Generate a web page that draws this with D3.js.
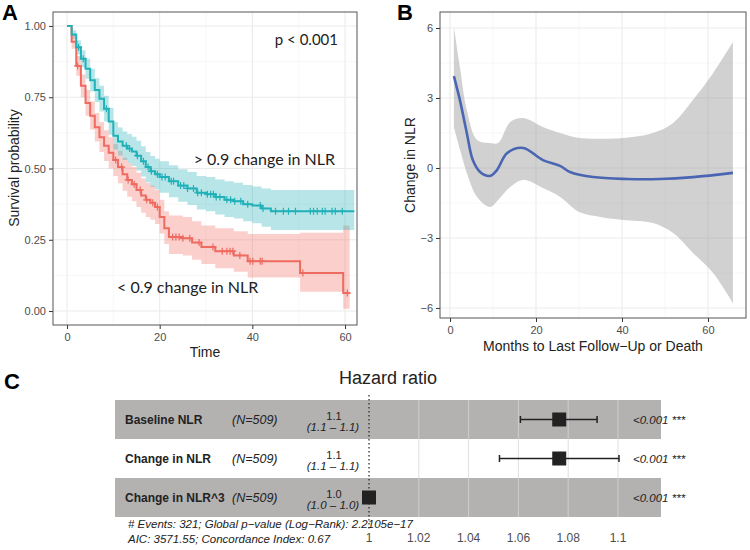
<!DOCTYPE html>
<html>
<head>
<meta charset="utf-8">
<script src="https://cdn.jsdelivr.net/npm/d3@7"></script>
<style>
body { margin: 0; background: #fff; }
svg text { font-family: "Liberation Sans", Arial, Helvetica, sans-serif; }
</style>
</head>
<body>
<div id="chart"></div>
<script>
// ---------- Panel A: Kaplan-Meier, > 0.9 change in NLR ----------
const highTime  = [0, 1, 2, 3, 4, 5, 6, 7, 8, 9, 10, 11, 12, 13, 14, 15, 16, 17, 18, 19, 20, 22, 24, 26, 28, 30, 32, 34, 36, 38, 40, 42, 44, 62];
const highSurv  = [1, 0.97, 0.925, 0.885, 0.85, 0.81, 0.775, 0.745, 0.71, 0.665, 0.615, 0.595, 0.58, 0.57, 0.56, 0.545, 0.525, 0.505, 0.49, 0.48, 0.47, 0.455, 0.44, 0.43, 0.415, 0.41, 0.4, 0.39, 0.385, 0.375, 0.37, 0.36, 0.35, 0.35];
const highLower = [1, 0.955, 0.9, 0.855, 0.815, 0.77, 0.733, 0.7, 0.665, 0.618, 0.567, 0.546, 0.53, 0.519, 0.509, 0.493, 0.472, 0.452, 0.436, 0.426, 0.415, 0.399, 0.383, 0.372, 0.356, 0.35, 0.339, 0.33, 0.325, 0.315, 0.308, 0.296, 0.284, 0.284];
const highUpper = [1, 0.985, 0.95, 0.915, 0.885, 0.85, 0.817, 0.79, 0.755, 0.712, 0.663, 0.644, 0.63, 0.621, 0.611, 0.597, 0.578, 0.558, 0.544, 0.534, 0.525, 0.511, 0.497, 0.488, 0.474, 0.47, 0.461, 0.455, 0.45, 0.442, 0.437, 0.43, 0.425, 0.425];
const highCensor = [2.5, 3.5, 8.5, 12.8, 13.5, 15.2, 16.5, 17.5, 18.2, 19.5, 20.5, 21.2, 22.5, 23, 24.5, 25.2, 26, 27.3, 28.2, 29, 30.3, 31, 31.6, 32.2, 33, 34.5, 35.3, 36.2, 37.5, 39, 41.7, 42.3, 45, 46.7, 47.8, 49.3, 52.5, 53.2, 54, 55.1, 55.7, 57.2, 57.9, 59.4];

// ---------- Panel A: Kaplan-Meier, < 0.9 change in NLR ----------
const lowTime  = [0, 1, 2, 3, 4, 5, 6, 7, 8, 9, 10, 11, 12, 13, 14, 15, 16, 17, 18, 19, 20, 21, 22, 25, 27, 29, 32, 36, 39, 50.3, 59.6, 61];
const lowSurv  = [1, 0.945, 0.86, 0.79, 0.73, 0.685, 0.645, 0.61, 0.58, 0.555, 0.53, 0.505, 0.48, 0.46, 0.445, 0.425, 0.405, 0.39, 0.38, 0.365, 0.33, 0.29, 0.26, 0.255, 0.24, 0.225, 0.21, 0.195, 0.175, 0.133, 0.063, 0.063];
const lowLower = [1, 0.92, 0.825, 0.75, 0.685, 0.637, 0.595, 0.558, 0.526, 0.5, 0.474, 0.448, 0.422, 0.401, 0.385, 0.365, 0.345, 0.33, 0.32, 0.305, 0.272, 0.235, 0.2, 0.195, 0.18, 0.165, 0.15, 0.138, 0.118, 0.068, 0.008, 0.008];
const lowUpper = [1, 0.97, 0.895, 0.83, 0.775, 0.735, 0.695, 0.662, 0.634, 0.61, 0.586, 0.562, 0.538, 0.519, 0.505, 0.485, 0.465, 0.45, 0.44, 0.425, 0.39, 0.35, 0.335, 0.33, 0.315, 0.3, 0.29, 0.28, 0.27, 0.275, 0.3, 0.3];
const lowCensor = [2.3, 10.5, 11.8, 13.2, 14.5, 15.8, 17.2, 18.5, 19.5, 22.8, 23.5, 24.2, 25, 26.5, 28.5, 31.5, 33.5, 34.5, 35.2, 35.8, 37.3, 39.5, 40.1, 41.7, 42.1, 50.9, 60.5];

const kmTicksX = [0, 20, 40, 60];
const kmTicksY = [0, 0.25, 0.5, 0.75, 1];

// ---------- Panel B: loess of change in NLR ----------
const fitMonths = [0.9, 2.3, 3.9, 5.3, 7, 9.3, 10.9, 13.3, 17, 21.6, 25.6, 27.9, 33.3, 41.2, 48.8, 56.5, 65.8];
const fitValue  = [3.94, 2.91, 1.5, 0.34, -0.17, -0.34, -0.09, 0.64, 0.86, 0.34, 0.09, -0.17, -0.39, -0.47, -0.47, -0.39, -0.21];
const bandMonths = [0.9, 2.3, 3.9, 6.3, 9.3, 11.2, 14, 17, 21.6, 25.6, 30.2, 35, 40.2, 47.2, 51.9, 56.5, 61.2, 65.8];
const bandUpper  = [6.04, 4.33, 2.49, 1.2, 1.07, 1.07, 1.97, 2.14, 1.76, 1.5, 1.28, 1.25, 1.28, 1.5, 1.93, 2.91, 4.07, 5.4];
const bandLower  = [1.76, 0.8, -0.21, -1.24, -1.67, -1.37, -0.81, -0.51, -0.86, -1.24, -1.9, -2.1, -2.23, -2.36, -2.79, -3.64, -4.5, -5.8];
const loessTicksX = [0, 20, 40, 60];
const loessTicksY = [-6, -3, 0, 3, 6];

// ---------- Panel C: Cox model forest plot ----------
const coxTerms = ["Baseline NLR", "Change in NLR", "Change in NLR^3"];
const coxN     = ["(N=509)", "(N=509)", "(N=509)"];
const coxHR    = [1.0764, 1.0764, 1.0];
const coxLow   = [1.0608, 1.0524, 0.9995];
const coxHigh  = [1.0916, 1.1004, 1.0005];
const coxEst   = ["1.1", "1.1", "1.0"];
const coxCI    = ["(1.1 \u2013 1.1)", "(1.1 \u2013 1.1)", "(1.0 \u2013 1.0)"];
const coxP     = ["<0.001 ***", "<0.001 ***", "<0.001 ***"];
const coxTicks = [1, 1.02, 1.04, 1.06, 1.08, 1.1];
const coxNotes = ["# Events: 321; Global p\u2212value (Log\u2212Rank): 2.2105e\u221217",
                  "AIC: 3571.55; Concordance Index: 0.67"];

const teal = "#21b1b8", red = "#ee6b60";

const svg = d3.select("#chart").append("svg")
    .attr("width", 750)
    .attr("height", 550)
    .style("background", "#fff");

// ggplot-ish panel with grid
function drawPanel(g, x, y, ticksX, ticksY, minorX, minorY) {
    let [x0, x1] = x.range(), [y1, y0] = y.range();
    g.append("rect").attr("x", x0).attr("y", y0).attr("width", x1 - x0).attr("height", y1 - y0)
        .attr("fill", "#fff");
    minorX.forEach(t => g.append("line").attr("x1", x(t)).attr("x2", x(t)).attr("y1", y0).attr("y2", y1)
        .attr("stroke", "#f2f2f2").attr("stroke-width", 0.6));
    minorY.forEach(t => g.append("line").attr("x1", x0).attr("x2", x1).attr("y1", y(t)).attr("y2", y(t))
        .attr("stroke", "#f2f2f2").attr("stroke-width", 0.6));
    ticksX.forEach(t => g.append("line").attr("x1", x(t)).attr("x2", x(t)).attr("y1", y0).attr("y2", y1)
        .attr("stroke", "#ebebeb").attr("stroke-width", 1.1));
    ticksY.forEach(t => g.append("line").attr("x1", x0).attr("x2", x1).attr("y1", y(t)).attr("y2", y(t))
        .attr("stroke", "#ebebeb").attr("stroke-width", 1.1));
}

// axes + border drawn on top
function drawAxes(g, x, y, ticksX, ticksY, fmtY) {
    let [x0, x1] = x.range(), [y1, y0] = y.range();
    let ax = g.append("g").attr("transform", "translate(0," + y1 + ")")
        .call(d3.axisBottom(x).tickValues(ticksX).tickSize(4).tickPadding(4).tickFormat(d3.format("d")));
    let ay = g.append("g").attr("transform", "translate(" + x0 + ",0)")
        .call(d3.axisLeft(y).tickValues(ticksY).tickSize(4).tickPadding(3).tickFormat(fmtY));
    [ax, ay].forEach(a => {
        a.select(".domain").remove();
        a.selectAll("line").attr("stroke", "#333");
        a.selectAll("text").attr("fill", "#4d4d4d").style("font-size", "11px");
    });
    ay.selectAll("text").text(d => fmtY(d).replace("-", "\u2212"));
    g.append("rect").attr("x", x0).attr("y", y0).attr("width", x1 - x0).attr("height", y1 - y0)
        .attr("fill", "none").attr("stroke", "#555").attr("stroke-width", 1);
}

// ================= Panel A =================
let gA = svg.append("g");
let xA = d3.scaleLinear().domain([-3.02, 62.58]).range([53, 357]);
let yA = d3.scaleLinear().domain([-0.049, 1.049]).range([325, 12]);
drawPanel(gA, xA, yA, kmTicksX, kmTicksY, [10, 30, 50], [0.125, 0.375, 0.625, 0.875]);

svg.append("clipPath").attr("id", "clipA").append("rect")
    .attr("x", 53).attr("y", 12).attr("width", 304).attr("height", 313);
let plotA = gA.append("g").attr("clip-path", "url(#clipA)");

let groups = [
    {time: lowTime, surv: lowSurv, lo: lowLower, hi: lowUpper, cens: lowCensor, col: red},
    {time: highTime, surv: highSurv, lo: highLower, hi: highUpper, cens: highCensor, col: teal}
];

groups.forEach(grp => {
    let pts = grp.time.map((t, i) => ({t: t, lo: grp.lo[i], hi: grp.hi[i]}));
    plotA.append("path").datum(pts)
        .attr("d", d3.area().curve(d3.curveStepAfter).x(d => xA(d.t)).y0(d => yA(d.lo)).y1(d => yA(d.hi)))
        .attr("fill", grp.col).attr("fill-opacity", 0.32);
});
groups.forEach(grp => {
    let pts = grp.time.map((t, i) => ({t: t, s: grp.surv[i]}));
    plotA.append("path").datum(pts)
        .attr("d", d3.line().curve(d3.curveStepAfter).x(d => xA(d.t)).y(d => yA(d.s)))
        .attr("fill", "none").attr("stroke", grp.col).attr("stroke-width", 2);
    // censor marks sit on the step curve
    let bis = d3.bisector(d => d).right;
    grp.cens.forEach(c => {
        let i = Math.max(0, bis(grp.time, c) - 1);
        let cx = xA(c), cy = yA(grp.surv[i]);
        plotA.append("path")
            .attr("d", `M${cx - 3.5},${cy}H${cx + 3.5}M${cx},${cy - 3.5}V${cy + 3.5}`)
            .attr("stroke", grp.col).attr("stroke-width", 1.2);
    });
});

drawAxes(gA, xA, yA, kmTicksX, kmTicksY, d3.format(".2f"));

gA.append("text").attr("x", 14).attr("y", 168).attr("transform", "rotate(-90,14,168)")
    .attr("dy", "0.35em").attr("text-anchor", "middle").style("font-size", "14px").attr("fill", "#222")
    .text("Survival probability");
gA.append("text").attr("x", 205).attr("y", 357).attr("text-anchor", "middle")
    .style("font-size", "14px").attr("fill", "#222").text("Time");

gA.append("text").attr("x", 338).attr("y", 45).attr("text-anchor", "end")
    .style("font-family", "Lato, sans-serif").style("font-size", "15px").attr("fill", "#222").text("p < 0.001");
gA.append("text").attr("x", 335).attr("y", 165).attr("text-anchor", "end")
    .style("font-family", "Lato, sans-serif").style("font-size", "16px").attr("fill", "#222").text("> 0.9 change in NLR");
gA.append("text").attr("x", 117).attr("y", 293)
    .style("font-family", "Lato, sans-serif").style("font-size", "16px").attr("fill", "#222").text("< 0.9 change in NLR");

svg.append("text").attr("x", 2).attr("y", 20).style("font-size", "22px").style("font-weight", "bold").text("A");

// ================= Panel B =================
let gB = svg.append("g");
let xB = d3.scaleLinear().domain([-2.33, 68.84]).range([440, 746]);
let yB = d3.scaleLinear().domain([-6.43, 6.686]).range([318, 12]);
drawPanel(gB, xB, yB, loessTicksX, loessTicksY, [10, 30, 50], [-4.5, -1.5, 1.5, 4.5]);

let band = bandMonths.map((m, i) => ({m: m, lo: bandLower[i], hi: bandUpper[i]}));
gB.append("path").datum(band)
    .attr("d", d3.area().curve(d3.curveCatmullRom).x(d => xB(d.m)).y0(d => yB(d.lo)).y1(d => yB(d.hi)))
    .attr("fill", "#999").attr("fill-opacity", 0.45);
let fit = fitMonths.map((m, i) => ({m: m, v: fitValue[i]}));
gB.append("path").datum(fit)
    .attr("d", d3.line().curve(d3.curveCatmullRom).x(d => xB(d.m)).y(d => yB(d.v)))
    .attr("fill", "none").attr("stroke", "#4a66b3").attr("stroke-width", 2.6);

drawAxes(gB, xB, yB, loessTicksX, loessTicksY, d3.format("d"));

gB.append("text").attr("x", 410).attr("y", 165).attr("transform", "rotate(-90,410,165)")
    .attr("dy", "0.35em").attr("text-anchor", "middle").style("font-size", "14px").attr("fill", "#222")
    .text("Change in NLR");
gB.append("text").attr("x", 593).attr("y", 351).attr("text-anchor", "middle")
    .style("font-size", "14px").attr("fill", "#222").text("Months to Last Follow\u2212Up or Death");

svg.append("text").attr("x", 397).attr("y", 20).style("font-size", "22px").style("font-weight", "bold").text("B");

// ================= Panel C =================
let gC = svg.append("g");
let xC = d3.scaleLinear().domain([1, 1.1]).range([369, 618]);
let rowY = d3.scaleBand().domain(coxTerms).range([400, 517]);

svg.append("text").attr("x", 4).attr("y", 389).style("font-size", "22px").style("font-weight", "bold").text("C");
gC.append("text").attr("x", 388).attr("y", 384).attr("text-anchor", "middle")
    .style("font-size", "18px").attr("fill", "#222").text("Hazard ratio");

coxTerms.forEach((t, i) => {
    if (i % 2 === 0) {
        gC.append("rect").attr("x", 115).attr("y", rowY(t)).attr("width", 661 - 115)
            .attr("height", rowY.bandwidth()).attr("fill", "#b4b1b1");
    }
});
coxTicks.slice(1).forEach(t => gC.append("line").attr("x1", xC(t)).attr("x2", xC(t))
    .attr("y1", 400).attr("y2", 517).attr("stroke", "#d6d6d6").attr("stroke-width", 0.8));

gC.append("line").attr("x1", xC(1)).attr("x2", xC(1)).attr("y1", 395).attr("y2", 530)
    .attr("stroke", "#222").attr("stroke-width", 1.2).attr("stroke-dasharray", "1.5,2.5");

coxTerms.forEach((t, i) => {
    let cy = rowY(t) + rowY.bandwidth() / 2;
    gC.append("text").attr("x", 125).attr("y", cy).attr("dy", "0.35em")
        .style("font-size", "12px").style("font-weight", "bold").attr("fill", "#222").text(t);
    gC.append("text").attr("x", 232).attr("y", cy).attr("dy", "0.35em")
        .style("font-size", "12.5px").style("font-style", "italic").attr("fill", "#222").text(coxN[i]);
    gC.append("text").attr("x", 334).attr("y", cy - 3.5).attr("dy", "0.35em").attr("text-anchor", "middle")
        .style("font-size", "11px").attr("fill", "#222").text(coxEst[i]);
    gC.append("text").attr("x", 333).attr("y", cy + 7).attr("dy", "0.35em").attr("text-anchor", "middle")
        .style("font-size", "11.5px").style("font-style", "italic").attr("fill", "#222").text(coxCI[i]);
    gC.append("text").attr("x", 633).attr("y", cy).attr("dy", "0.35em")
        .style("font-size", "11.5px").style("font-style", "italic").attr("fill", "#222").text(coxP[i]);

    let lo = xC(coxLow[i]), hi = xC(coxHigh[i]);
    gC.append("path")
        .attr("d", `M${lo},${cy}H${hi}M${lo},${cy - 3.5}V${cy + 3.5}M${hi},${cy - 3.5}V${cy + 3.5}`)
        .attr("stroke", "#222").attr("stroke-width", 1.5).attr("fill", "none");
    gC.append("rect").attr("x", xC(coxHR[i]) - 7).attr("y", cy - 7).attr("width", 14).attr("height", 14)
        .attr("fill", "#222");
});

coxNotes.forEach((n, i) => {
    gC.append("text").attr("x", 128).attr("y", 528 + i * 15)
        .style("font-size", "11.5px").style("font-style", "italic").attr("fill", "#222").text(n);
});

coxTicks.forEach(t => {
    gC.append("text").attr("x", xC(t)).attr("y", 542).attr("text-anchor", "middle")
        .style("font-size", "12px").attr("fill", "#4d4d4d").text(t === 1 ? "1" : d3.format(".2~f")(t));
});
</script>
</body>
</html>
